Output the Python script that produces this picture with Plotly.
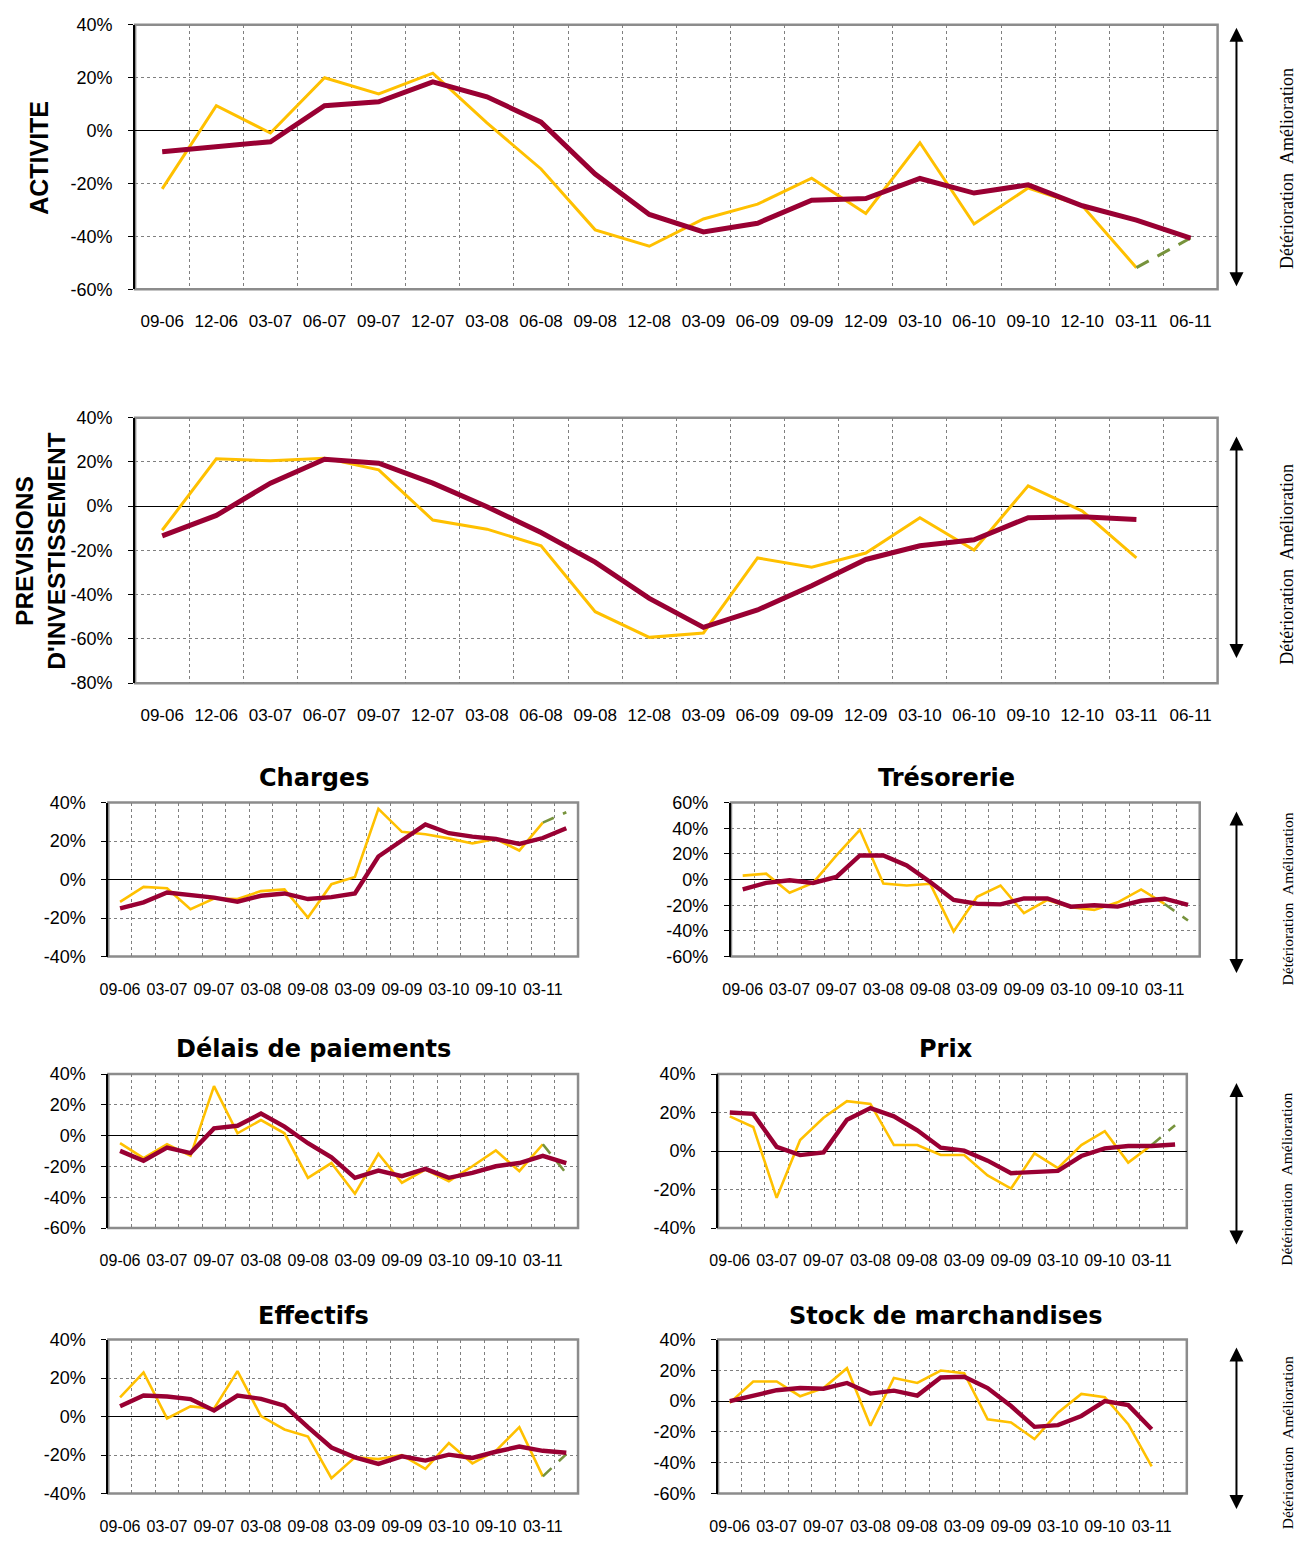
import plotly.graph_objects as go

W, H = 1304, 1544

# ---------------- data ----------------
QUARTERS = ["09-06", "12-06", "03-07", "06-07", "09-07", "12-07", "03-08", "06-08", "09-08", "12-08",
            "03-09", "06-09", "09-09", "12-09", "03-10", "06-10", "09-10", "12-10", "03-11", "06-11"]

ACT_TREND = [-8, -6.2, -4.2, 9.4, 10.9, 18.4, 12.8, 3.2, -16.4, -31.7,
             -38.3, -35, -26.3, -25.7, -18.1, -23.6, -20.5, -28.4, -33.8, -40.6]
ACT_SOLDE = [-22, 9.4, -0.9, 20, 13.9, 21.7, 2.9, -14.5, -37.5, -43.7,
             -33.4, -27.8, -18, -31.3, -4.6, -35.3, -21.7, -28.4, -51.8, None]
ACT_PREV = -40.6

INV_TREND = [-13.4, -4.2, 10.4, 21.2, 19.4, 10.4, -0.3, -11.9, -25.3, -41.7,
             -54.8, -46.9, -36, -24.1, -17.9, -15.2, -5.2, -4.8, -6, None]
INV_SOLDE = [-10.9, 21.4, 20.5, 21.7, 16.4, -6.3, -10.4, -17.9, -47.7, -59.3,
             -57.3, -23.4, -27.6, -21.2, -5.2, -19.8, 9.2, -2.2, -23.4, None]
INV_PREV = None

CHG_TREND = [-14.9, -11.8, -6.7, -8, -9.4, -11.5, -8.4, -7.2, -10.1, -9.1,
             -7.2, 12, 20.5, 28.6, 24.1, 22.3, 21.1, 18.5, 21.6, 26.7]
CHG_SOLDE = [-11.6, -3.8, -4.5, -15.4, -9.8, -10.1, -6, -5.1, -19.7, -2.4,
             1.4, 36.8, 24.8, 23.6, 21.4, 18.8, 21.1, 15.1, 29.6, None]
CHG_PREV = 35

TRE_TREND = [-7.7, -2.6, -0.5, -2.6, 2.1, 18.8, 18.8, 11, -1.8, -15.9,
             -18.8, -19.3, -14.7, -14.7, -21.1, -20, -21.1, -16.5, -14.9, -19.8]
TRE_SOLDE = [3.1, 4.6, -10.3, -2.6, 18.8, 38.8, -3.1, -4.6, -3.3, -40.4,
             -13.4, -4.6, -26.2, -15.9, -21.6, -23.6, -17.7, -7.7, -19, None]
TRE_PREV = -31.9

DEL_TREND = [-9.9, -16.3, -7.7, -11.3, 4.7, 6.4, 14.3, 5.8, -4.9, -14.1,
             -27.4, -22.7, -26.3, -21.6, -27.4, -24.2, -19.9, -17.8, -13.1, -17.8]
DEL_SOLDE = [-4.9, -14.6, -5.6, -13.1, 32.1, 1.5, 10.1, 1.5, -27.4, -17.8,
             -37.7, -11.8, -30.6, -22.1, -29.6, -19.9, -9.6, -23.1, -5.6, None]
DEL_PREV = -24.6

PRIX_TREND = [20, 19.3, 2.2, -2.1, -0.7, 16.3, 22.3, 18, 10.8, 1.7,
              0.2, -5, -11.5, -11.1, -10.3, -2.6, 1.4, 2.6, 2.6, 3.4]
PRIX_SOLDE = [18, 12.5, -24.3, 5.7, 17.3, 25.9, 24.5, 3.1, 3.1, -2.1,
              -2.1, -12.7, -19.5, -1.2, -8.9, 3.1, 10.3, -6, 3.1, None]
PRIX_PREV = 13.4

EFF_TREND = [5.3, 10.9, 10.4, 9.1, 3.1, 10.9, 9.2, 5.6, -5.5, -16.1,
             -21.2, -24.6, -20.7, -22.9, -19.8, -21.5, -18.3, -15.6, -17.8, -18.8]
EFF_SOLDE = [9.9, 22.9, -1, 5.3, 4.1, 23.6, 0.2, -6.7, -10.4, -32,
             -21.2, -22.1, -20, -27.2, -13.8, -24.3, -17.8, -5.5, -31.1, None]
EFF_PREV = -19.5

STK_TREND = [0, 3.6, 7.1, 8.5, 8.1, 11.8, 4.9, 6.8, 3.6, 15.4,
             15.8, 8.5, -3.2, -16.7, -15.6, -9.6, 0, -2.6, -18.2, None]
STK_SOLDE = [-1.1, 12.8, 12.8, 3.2, 8.5, 21.4, -16, 15, 11.8, 19.9,
             18.2, -11.8, -13.9, -24.6, -7.5, 4.7, 2.6, -15, -42.3, None]
STK_PREV = None

YT_ACT = [40, 20, 0, -20, -40, -60]
YT_INV = [40, 20, 0, -20, -40, -60, -80]
YT_CHG = [40, 20, 0, -20, -40]
YT_TRE = [60, 40, 20, 0, -20, -40, -60]
YT_DEL = [40, 20, 0, -20, -40, -60]
YT_PRIX = [40, 20, 0, -20, -40]
YT_EFF = [40, 20, 0, -20, -40]
YT_STK = [40, 20, 0, -20, -40, -60]

SIDE_TEXT = "Détérioration\u00a0\u00a0Amélioration"

# ---------------- style ----------------
MAROON = "#990033"
YELLOW = "#FFC000"
GREEN = "#77933C"
GRID = "#7f7f7f"
BORDER = "#8c8c8c"
SANS = "Liberation Sans, Arial, sans-serif"
TITLEFONT = "DejaVu Sans, Verdana, sans-serif"
SERIF = "Liberation Serif, Times New Roman, serif"

fig = go.Figure()


def px_x(x):
    return x / W


def px_y(y):
    return 1 - y / H


def add_panel(i, x0, x1, y0, y1, trend, solde, prev, yticks, big):
    xa = "xaxis" if i == 1 else f"xaxis{i}"
    ya = "yaxis" if i == 1 else f"yaxis{i}"
    xr = "x" if i == 1 else f"x{i}"
    yr = "y" if i == 1 else f"y{i}"
    tw = 3 if big else 2.6
    mw = 5 if big else 4.4
    fig.add_trace(go.Scatter(x=QUARTERS, y=solde, mode="lines", xaxis=xr, yaxis=yr,
                             line=dict(color=YELLOW, width=tw), hoverinfo="skip"))
    if prev is not None:
        fig.add_trace(go.Scatter(x=QUARTERS[-2:], y=[solde[-2], prev], mode="lines",
                                 xaxis=xr, yaxis=yr,
                                 line=dict(color=GREEN, width=tw,
                                           dash="14px,10px" if big else "12px,10px"),
                                 hoverinfo="skip"))
    fig.add_trace(go.Scatter(x=QUARTERS, y=trend, mode="lines", xaxis=xr, yaxis=yr,
                             line=dict(color=MAROON, width=mw), hoverinfo="skip"))
    step = 1 if big else 2
    labels = [q if k % step == 0 else "" for k, q in enumerate(QUARTERS)]
    fig.update_layout({
        xa: dict(domain=[px_x(x0), px_x(x1)], anchor=yr, type="category",
                 range=[-0.5, len(QUARTERS) - 0.5],
                 tickmode="array", tickvals=QUARTERS, ticktext=labels, tickangle=0,
                 tickson="boundaries", showgrid=True, gridcolor=GRID, griddash="dot",
                 gridwidth=1, ticks="", showline=False, zeroline=False,
                 tickfont=dict(family=SANS, size=17 if big else 16, color="black"),
                 ticklabelstandoff=20 if big else 21, fixedrange=True),
        ya: dict(domain=[px_y(y1), px_y(y0)], anchor=xr,
                 range=[min(yticks), max(yticks)],
                 tickmode="array", tickvals=yticks, ticktext=[f"{v}%" for v in yticks],
                 showgrid=True, gridcolor=GRID, griddash="dot", gridwidth=1,
                 zeroline=True, zerolinecolor="black", zerolinewidth=1.3,
                 showline=True, linecolor="black", linewidth=2,
                 ticks="outside", ticklen=5, tickcolor="black", tickwidth=1,
                 tickfont=dict(family=SANS, size=18, color="black"),
                 ticklabelstandoff=12, fixedrange=True),
    })
    fig.add_shape(type="rect", xref=f"{xr} domain", yref=f"{yr} domain",
                  x0=0, x1=1, y0=0, y1=1, layer="below",
                  line=dict(color=BORDER, width=2.5))


add_panel(1, 127, 1217, 15, 283, ACT_TREND, ACT_SOLDE, ACT_PREV, YT_ACT, True)
add_panel(2, 127, 1217, 413, 682, INV_TREND, INV_SOLDE, INV_PREV, YT_INV, True)
add_panel(3, 100, 573, 803, 959, CHG_TREND, CHG_SOLDE, CHG_PREV, YT_CHG, False)
add_panel(4, 727, 1199, 803, 959, TRE_TREND, TRE_SOLDE, TRE_PREV, YT_TRE, False)
add_panel(5, 100, 573, 1078, 1234, DEL_TREND, DEL_SOLDE, DEL_PREV, YT_DEL, False)
add_panel(6, 714, 1186, 1078, 1234, PRIX_TREND, PRIX_SOLDE, PRIX_PREV, YT_PRIX, False)
add_panel(7, 100, 573, 1347, 1503, EFF_TREND, EFF_SOLDE, EFF_PREV, YT_EFF, False)
add_panel(8, 714, 1186, 1347, 1503, STK_TREND, STK_SOLDE, STK_PREV, YT_STK, False)

ann = []


def text_at(x, y, text, size, family, bold=False, angle=0):
    ann.append(dict(x=px_x(x), y=px_y(y), xref="paper", yref="paper", showarrow=False,
                    text=f"<b>{text}</b>" if bold else text, textangle=angle,
                    xanchor="center", yanchor="middle",
                    font=dict(family=family, size=size, color="black")))


def arrow(x, ytop, ybot):
    ann.append(dict(x=px_x(x), y=px_y(ytop), xref="paper", yref="paper", text="",
                    showarrow=True, ax=0, ay=ybot - ytop, arrowside="end+start",
                    arrowhead=2, arrowsize=1.4, arrowwidth=2, arrowcolor="black",
                    standoff=0, startstandoff=0))


text_at(30, 150, "ACTIVITE", 25, SANS, bold=True, angle=-90)
text_at(32, 548, "PREVISIONS<br>D'INVESTISSEMENT", 24.5, SANS, bold=True, angle=-90)

text_at(307, 778, "Charges", 24, TITLEFONT, bold=True)
text_at(944, 778, "Trésorerie", 24, TITLEFONT, bold=True)
text_at(307, 1053, "Délais de paiements", 24, TITLEFONT, bold=True)
text_at(944, 1053, "Prix", 24, TITLEFONT, bold=True)
text_at(307, 1323, "Effectifs", 24, TITLEFONT, bold=True)
text_at(944, 1323, "Stock de marchandises", 24, TITLEFONT, bold=True)

arrow(1236, 18, 278)
arrow(1236, 432, 655)
arrow(1236, 812, 975)
arrow(1236, 1087, 1250)
arrow(1236, 1355, 1518)

text_at(1287, 161, SIDE_TEXT, 18, SERIF, angle=-90)
text_at(1287, 562, SIDE_TEXT, 18, SERIF, angle=-90)
text_at(1287, 901, SIDE_TEXT, 15.5, SERIF, angle=-90)
text_at(1287, 1185, SIDE_TEXT, 15.5, SERIF, angle=-90)
text_at(1287, 1452, SIDE_TEXT, 15.5, SERIF, angle=-90)

fig.update_layout(width=W, height=H, autosize=False,
                  margin=dict(l=0, r=0, t=0, b=0),
                  paper_bgcolor="white", plot_bgcolor="white",
                  showlegend=False, annotations=ann)

POST = (
    "document.documentElement.style.margin='0';"
    "document.body.style.margin='0';"
    "document.body.style.overflow='hidden';"
    "var g=document.getElementsByClassName('plotly-graph-div')[0];"
    "if(g){g.style.position='fixed';g.style.left='0px';g.style.top='0px';}"
)

fig.write_html("out.html", config={"displayModeBar": False}, post_script=POST)
